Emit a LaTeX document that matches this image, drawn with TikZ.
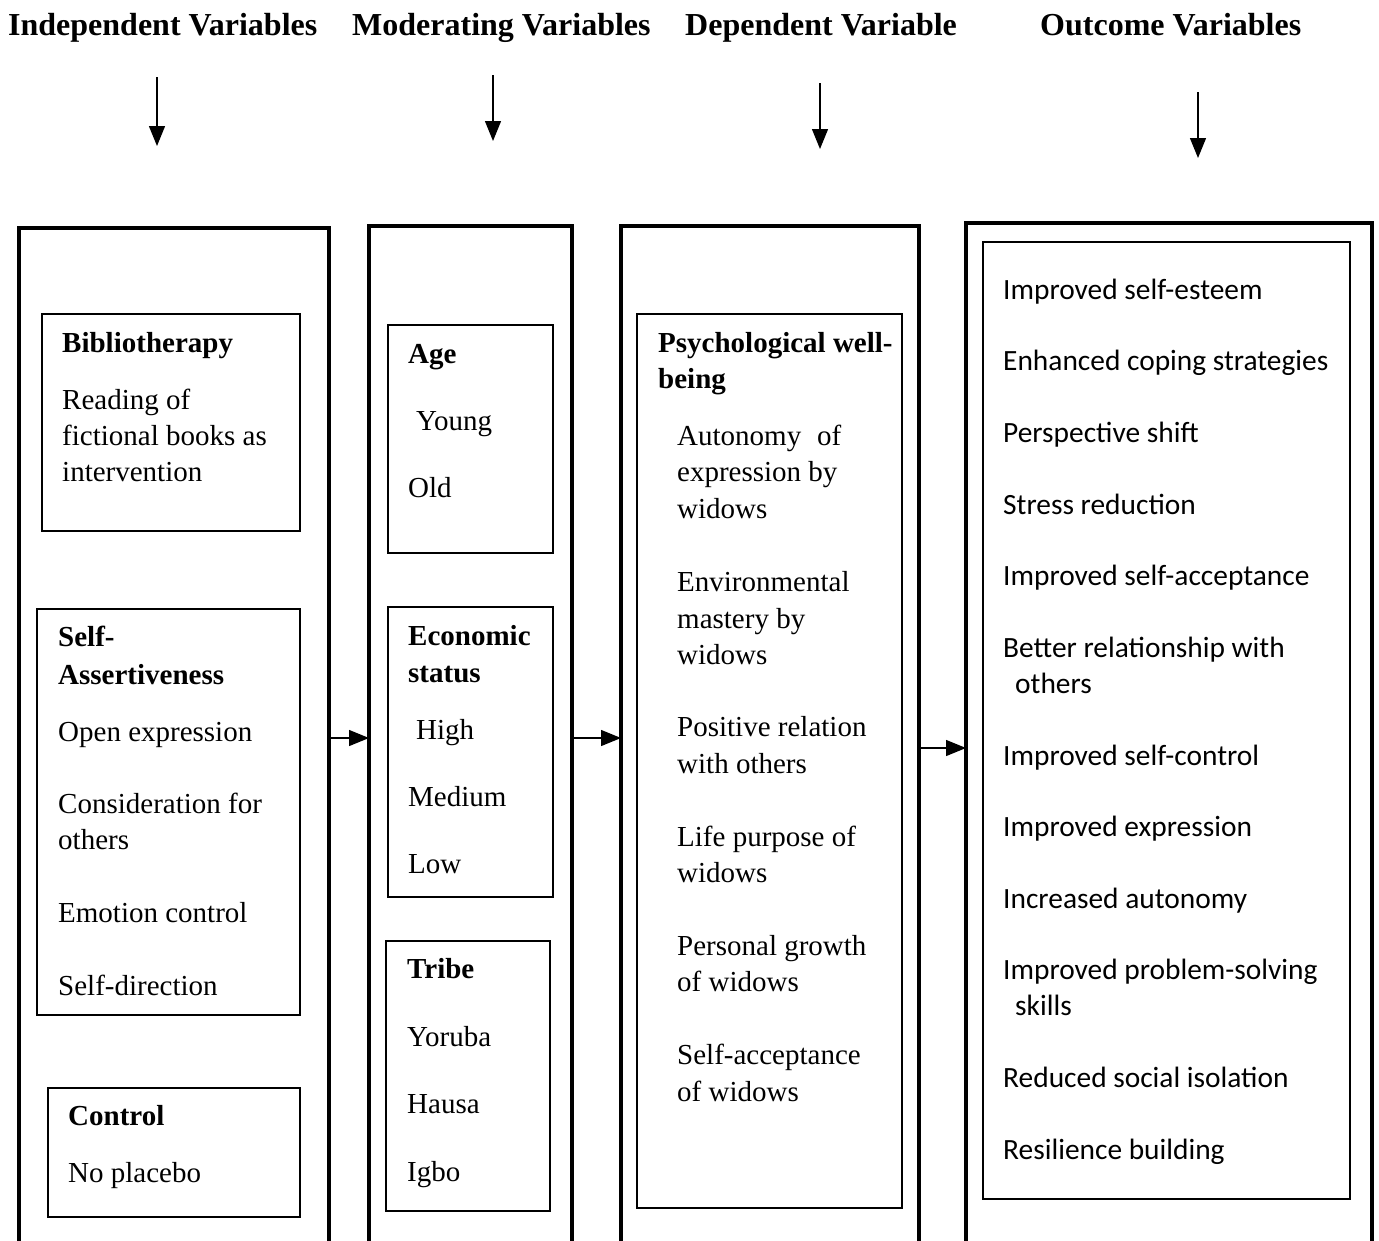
\documentclass[tikz,border=0pt]{standalone}
\usepackage{fontspec}
\setmainfont{Liberation Serif}
\newfontfamily\califont{Carlito}
\usetikzlibrary{arrows.meta}
\begin{document}
\begin{tikzpicture}[x=1pt,y=-1pt,
  outer/.style={draw,line width=3.2pt,anchor=north west,inner sep=0pt,outer sep=0pt},
  ibox/.style={draw,line width=1.4pt,anchor=north west,inner sep=0pt,outer sep=0pt},
  txt/.style={anchor=base west,inner sep=0pt,font=\fontsize{29}{36}\selectfont},
  btxt/.style={anchor=base west,inner sep=0pt,font=\fontsize{29}{36}\selectfont\bfseries},
  otxt/.style={anchor=base west,inner sep=0pt,font=\fontsize{29.4}{36}\selectfont\califont},
  head/.style={anchor=base west,inner sep=0pt,font=\fontsize{32}{38}\selectfont\bfseries},
  arr/.style={line width=1.3pt,-{Triangle[length=20pt 0 0,width=16pt 0 0]}},
]
\useasboundingbox (0,0) rectangle (1379,1240);

% headings
\node[head] (h1) at (8,35) {Independent Variables};
\node[head] (h2) at (352,35) {Moderating Variables};
\node[head] (h3) at (685,35) {Dependent Variable};
\node[head] (h4) at (1040,35) {Outcome Variables};

% down arrows
\coordinate (d1a) at (157,77);  \coordinate (d1b) at (157,146);
\coordinate (d2a) at (493,75);  \coordinate (d2b) at (493,141);
\coordinate (d3a) at (820,83);  \coordinate (d3b) at (820,149);
\coordinate (d4a) at (1198,92); \coordinate (d4b) at (1198,158);
\draw[arr] (d1a) -- (d1b);
\draw[arr] (d2a) -- (d2b);
\draw[arr] (d3a) -- (d3b);
\draw[arr] (d4a) -- (d4b);

% outer columns (extend below the page)
\node[outer,minimum width=310pt,minimum height=1040pt] (c1) at (19,228) {};
\node[outer,minimum width=203pt,minimum height=1040pt] (c2) at (369,226) {};
\node[outer,minimum width=298pt,minimum height=1040pt] (c3) at (621,226) {};
\node[outer,minimum width=406pt,minimum height=1040pt] (c4) at (966,223) {};

% horizontal arrows
\coordinate (y1) at (0,738);
\coordinate (y2) at (0,748);
\draw[arr] (c1.east |- y1) -- (c2.west |- y1);
\draw[arr] (c2.east |- y1) -- (c3.west |- y1);
\draw[arr] (c3.east |- y2) -- (c4.west |- y2);

% inner boxes
\node[ibox,minimum width=258pt,minimum height=217pt] (b1) at (42,314) {};
\node[ibox,minimum width=263pt,minimum height=406pt] (b2) at (37,609) {};
\node[ibox,minimum width=252pt,minimum height=129pt] (b3) at (48,1088) {};
\node[ibox,minimum width=165pt,minimum height=228pt] (m1) at (388,325) {};
\node[ibox,minimum width=165pt,minimum height=290pt] (m2) at (388,607) {};
\node[ibox,minimum width=164pt,minimum height=270pt] (m3) at (386,941) {};
\node[ibox,minimum width=265pt,minimum height=894pt] (p1) at (637,314) {};
\node[ibox,minimum width=367pt,minimum height=957pt] (o1) at (983,242) {};

% column 1 texts
\node[btxt] (t11) at (62,352) {Bibliotherapy};
\node[txt]  (t12) at (62,409) {Reading of};
\node[txt]  (t13) at (62,445) {fictional books as};
\node[txt]  (t14) at (62,481) {intervention};
\node[btxt] (t15) at (58,646) {Self-};
\node[btxt] (t16) at (58,684) {Assertiveness};
\node[txt]  (t17) at (58,741) {Open expression};
\node[txt]  (t18) at (58,813) {Consideration for};
\node[txt]  (t19) at (58,849) {others};
\node[txt]  (t110) at (58,922) {Emotion control};
\node[txt]  (t111) at (58,995) {Self-direction};
\node[btxt] (t112) at (68,1125) {Control};
\node[txt]  (t113) at (68,1182) {No placebo};

% column 2 texts
\node[btxt] (t21) at (408,363) {Age};
\node[txt]  (t22) at (416,430) {Young};
\node[txt]  (t23) at (408,497) {Old};
\node[btxt] (t24) at (408,645) {Economic};
\node[btxt] (t25) at (408,682) {status};
\node[txt]  (t26) at (416,739) {High};
\node[txt]  (t27) at (408,806) {Medium};
\node[txt]  (t28) at (408,873) {Low};
\node[btxt] (t29) at (407,978) {Tribe};
\node[txt]  (t210) at (407,1046) {Yoruba};
\node[txt]  (t211) at (407,1113) {Hausa};
\node[txt]  (t212) at (407,1181) {Igbo};

% column 3 texts
\node[btxt] (t31) at (658,352) {Psychological well-};
\node[btxt] (t32) at (658,388) {being};
\node[txt]  (t33) at (677,445) {Autonomy\hspace{16pt}of};
\node[txt]  (t34) at (677,481) {expression by};
\node[txt]  (t35) at (677,518) {widows};
\node[txt]  (t36) at (677,591) {Environmental};
\node[txt]  (t37) at (677,628) {mastery by};
\node[txt]  (t38) at (677,664) {widows};
\node[txt]  (t39) at (677,736) {Positive relation};
\node[txt]  (t310) at (677,773) {with others};
\node[txt]  (t311) at (677,846) {Life purpose of};
\node[txt]  (t312) at (677,882) {widows};
\node[txt]  (t313) at (677,955) {Personal growth};
\node[txt]  (t314) at (677,991) {of widows};
\node[txt]  (t315) at (677,1064) {Self-acceptance};
\node[txt]  (t316) at (677,1101) {of widows};

% column 4 texts
\node[otxt] (t41) at (1003,299) {Improved self-esteem};
\node[otxt] (t42) at (1003,370) {Enhanced coping strategies};
\node[otxt] (t43) at (1003,442) {Perspective shift};
\node[otxt] (t44) at (1003,514) {Stress reduction};
\node[otxt] (t45) at (1003,585) {Improved self-acceptance};
\node[otxt] (t46) at (1003,657) {Better relationship with};
\node[otxt] (t47) at (1015,693) {others};
\node[otxt] (t48) at (1003,765) {Improved self-control};
\node[otxt] (t49) at (1003,836) {Improved expression};
\node[otxt] (t410) at (1003,908) {Increased autonomy};
\node[otxt] (t411) at (1003,979) {Improved problem-solving};
\node[otxt] (t412) at (1015,1015) {skills};
\node[otxt] (t413) at (1003,1087) {Reduced social isolation};
\node[otxt] (t414) at (1003,1159) {Resilience building};
\end{tikzpicture}
\end{document}
